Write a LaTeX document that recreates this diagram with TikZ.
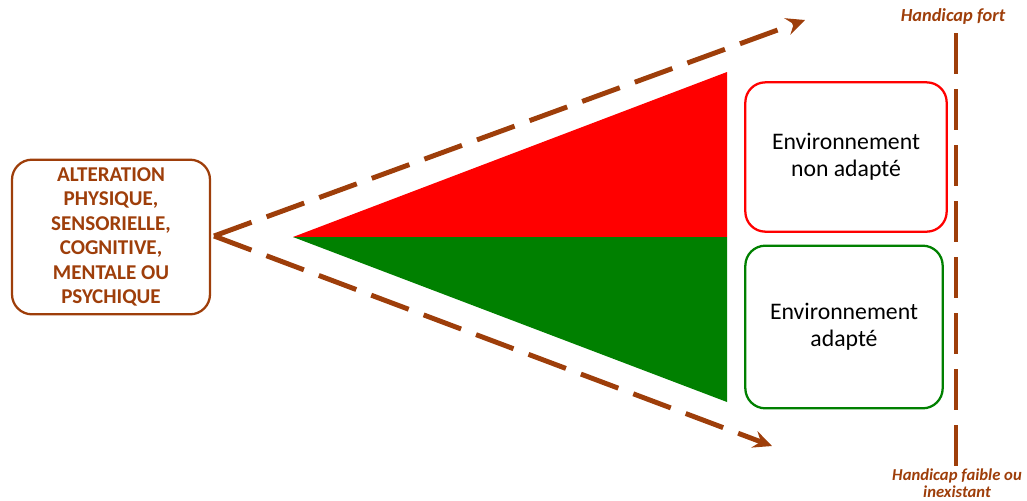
\documentclass[tikz,border=0pt]{standalone}
\usepackage{fontspec}
\setmainfont{Carlito}
\usetikzlibrary{arrows.meta,positioning}
\definecolor{brun}{RGB}{158,62,10}
\definecolor{rouge}{RGB}{255,0,0}
\definecolor{vert}{RGB}{0,128,0}
\begin{document}
\begin{tikzpicture}[
    x=0.75pt, y=-0.75pt,
    box/.style={draw, line width=1.7pt, rounded corners=15pt, align=center, inner sep=0pt},
    dasharrow/.style={brun, line width=3.7pt, dash pattern=on 30pt off 12pt, -{Stealth[length=14pt, width=13pt, inset=5pt]}},
    tag/.style={brun, inner sep=0pt, font=\fontsize{12.5}{12.5}\selectfont\bfseries\itshape, align=center}
  ]
    \useasboundingbox (0,0) rectangle (1027,500);
    \node[box, brun, text=brun, minimum width=148.5pt, minimum height=116pt,
          font=\fontsize{15.8}{18.3}\selectfont\bfseries] (alt) at (111,237)
          {ALTERATION\\PHYSIQUE,\\SENSORIELLE,\\COGNITIVE,\\MENTALE OU\\PSYCHIQUE};
    \node[box, rouge, text=black, minimum width=151pt, minimum height=112pt,
          font=\fontsize{17.8}{20.5}\selectfont] (nonad) at (846,157) {Environnement\\non adapté};
    \node[box, vert, text=black, minimum width=148pt, minimum height=122pt,
          font=\fontsize{17.8}{20.5}\selectfont] (adapt) at (844,327) {Environnement\\adapté};
    \coordinate (src) at (214,236);
    \coordinate (haut) at (805,20);
    \coordinate (bas) at (772,446);
    \coordinate (apex) at (293,237);
    \fill[rouge] (apex) -- (727,72) -- (727,237) -- cycle;
    \fill[vert] (apex) -- (727,237) -- (727,402) -- cycle;
    \draw[dasharrow] (src) -- (haut);
    \draw[dasharrow] (src) -- (bas);
    \node[tag, font=\fontsize{13.8}{14}\selectfont\bfseries\itshape] (fort) at (953,16) {Handicap fort};
    \node[tag, anchor=north] (faible) at (957,469) {Handicap faible ou\\inexistant};
    \coordinate (vtop) at (956,33);
    \coordinate (vbas) at (956,467);
    \draw[brun, line width=3.3pt, dash pattern=on 31pt off 11pt] (vtop) -- (vbas);
\end{tikzpicture}
\end{document}
